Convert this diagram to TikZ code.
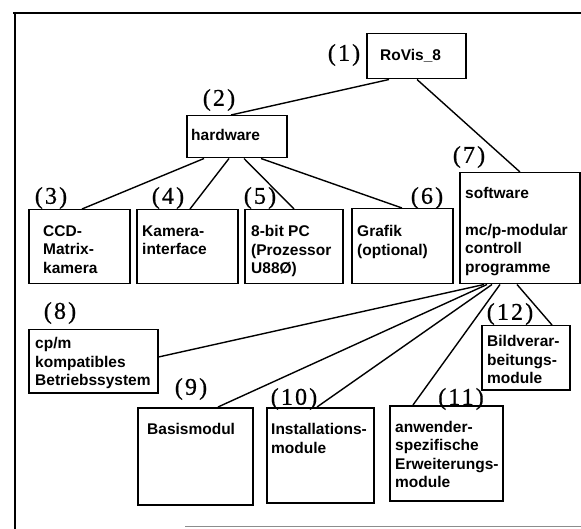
\documentclass[tikz,border=0pt]{standalone}
\usepackage{fontspec}
\setmainfont{Liberation Sans}
\newfontfamily\numfont[LetterSpace=9,FakeBold=0.6]{Liberation Serif}
\usetikzlibrary{calc}
\begin{document}
\begin{tikzpicture}[x=1pt,y=-1pt,
  box/.style={draw, line width=1.5pt, anchor=north west, inner sep=0pt},
  txt/.style={anchor=north west, inner sep=0pt, align=left,
    font=\fontsize{15.5}{18.3}\selectfont\bfseries},
  num/.style={anchor=center, inner sep=0pt, font=\fontsize{24}{26}\selectfont\numfont},
  conn/.style={line width=1.4pt},
  frame/.style={line width=2.4pt}]
\useasboundingbox (0,0) rectangle (581,529);
% frame
\coordinate (f1) at (13,13);
\coordinate (f2) at (581,13);
\coordinate (f3) at (15,12);
\coordinate (f4) at (15,529);
\coordinate (f5) at (185,526.5);
\coordinate (f6) at (581,526.5);
\draw[frame] (f1) -- (f2);
\draw[frame, line width=2pt] (f3) -- (f4);
\draw[line width=1pt, black!45] (f5) -- (f6);
% boxes
\node[box, minimum width=99pt, minimum height=45pt] (b1) at (366,33) {};
\node[box, minimum width=100pt, minimum height=42pt] (b2) at (186,115) {};
\node[box, minimum width=101pt, minimum height=74pt] (b3) at (28,209) {};
\node[box, minimum width=101pt, minimum height=74pt] (b4) at (136,209) {};
\node[box, minimum width=98pt, minimum height=74pt] (b5) at (244,209) {};
\node[box, minimum width=101pt, minimum height=75pt] (b6) at (351,208) {};
\node[box, minimum width=120pt, minimum height=111pt] (b7) at (459,172) {};
\node[box, minimum width=129pt, minimum height=63pt] (b8) at (28,329) {};
\node[box, minimum width=88pt, minimum height=64pt] (b12) at (481,325) {};
\node[box, minimum width=115pt, minimum height=97pt] (b9) at (137,407) {};
\node[box, minimum width=107pt, minimum height=95pt] (b10) at (266,407) {};
\node[box, minimum width=113pt, minimum height=95pt] (b11) at (389,405) {};
% texts
\node[txt] (t1) at (380,49.5) {RoVis\_8};
\node[txt] (t2) at (191,129.5) {hardware};
\node[txt] (t3) at (43,225.5) {CCD-\\Matrix-\\kamera};
\node[txt] (t4) at (142,225.5) {Kamera-\\interface};
\node[txt] (t5) at (251,225.5) {8-bit PC\\(Prozessor\\U88Ø)};
\node[txt] (t6) at (357,225.5) {Grafik\\(optional)};
\node[txt] (t7) at (465,187.5) {software\\[18.3pt]mc/p-modular\\controll\\programme};
\node[txt] (t8) at (35,337.5) {cp/m\\kompatibles\\Betriebssystem};
\node[txt] (t12) at (487,335.5) {Bildverar-\\beitungs-\\module};
\node[txt] (t9) at (147,423.5) {Basismodul};
\node[txt] (t10) at (271,423.5) {Installations-\\module};
\node[txt] (t11) at (395,421) {anwender-\\spezifische\\Erweiterungs-\\module};
% numbers
\node[num] (n1) at (344,55) {(1)};
\node[num] (n2) at (219,100) {(2)};
\node[num] (n3) at (51,198) {(3)};
\node[num] (n4) at (168,198) {(4)};
\node[num] (n5) at (260,198) {(5)};
\node[num] (n6) at (427,198) {(6)};
\node[num] (n7) at (469,157) {(7)};
\node[num] (n8) at (60,313) {(8)};
\node[num] (n9) at (191,389) {(9)};
\node[num] (n10) at (294,399) {(10)};
\node[num] (n11) at (461,399) {(11)};
\node[num] (n12) at (510,314) {(12)};
% connectors
\draw[conn] ($(b1.south west)+(23,0)$) -- ($(b2.north west)+(45,0)$);
\draw[conn] ($(b1.south west)+(51,0)$) -- ($(b7.north west)+(61,0)$);
\draw[conn] ($(b2.south west)+(18,0)$) -- ($(b3.north west)+(54,0)$);
\draw[conn] ($(b2.south west)+(43,0)$) -- ($(b4.north west)+(54,0)$);
\draw[conn] ($(b2.south west)+(58,0)$) -- ($(b5.north west)+(50,0)$);
\draw[conn] ($(b2.south west)+(75,0)$) -- ($(b6.north west)+(51,0)$);
\draw[conn] ($(b7.south west)+(25,0)$) -- ($(b8.north east)+(0,28)$);
\draw[conn] ($(b7.south west)+(28,0)$) -- ($(b9.north west)+(81,0)$);
\draw[conn] ($(b7.south west)+(33,0)$) -- ($(b10.north west)+(51,0)$);
\draw[conn] ($(b7.south west)+(41,0)$) -- ($(b11.north west)+(24,0)$);
\draw[conn] ($(b7.south west)+(58,0)$) -- ($(b12.north west)+(71,0)$);
\end{tikzpicture}
\end{document}
